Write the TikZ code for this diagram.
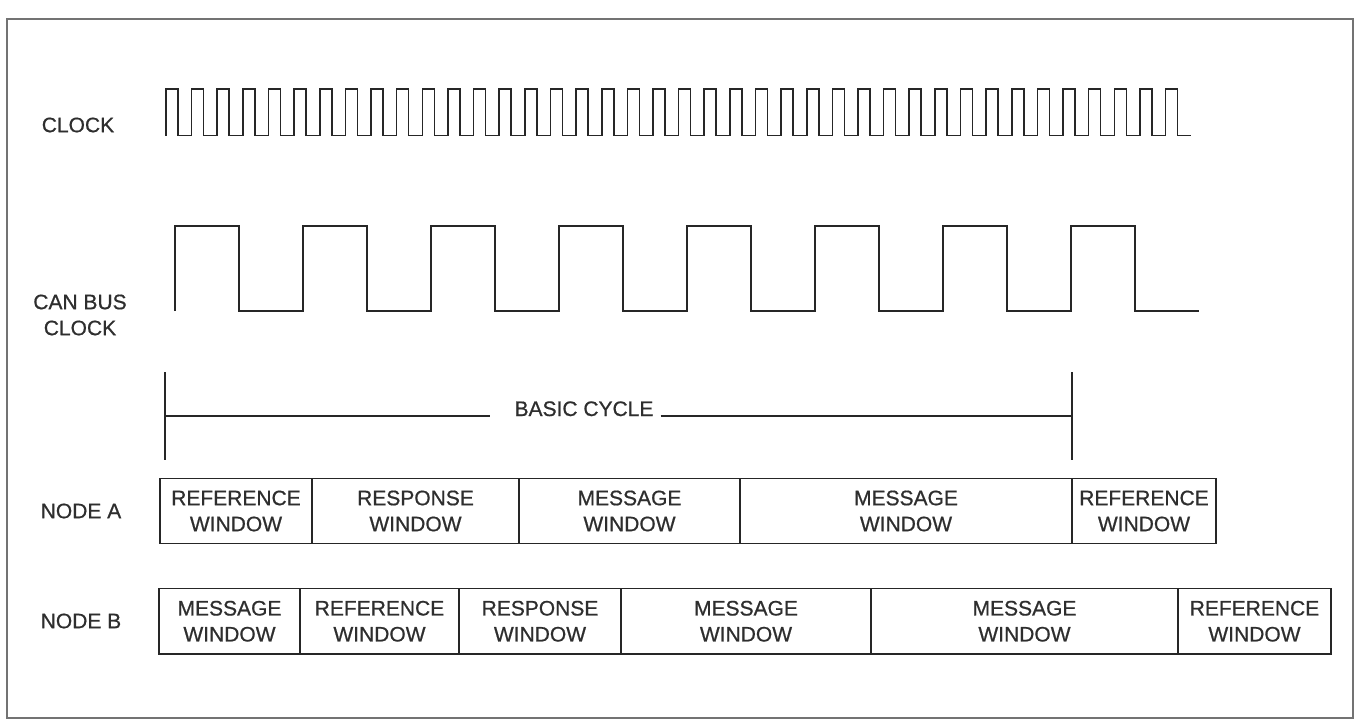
\documentclass[tikz,border=0pt]{standalone}
\usepackage{fontspec}
\setmainfont{Liberation Sans}
\newfontfamily\scanfont{Liberation Sans}[FakeBold=0.7]
\begin{document}
\begin{tikzpicture}[x=1pt,y=-1pt,
  wave/.style={line width=1.6pt, draw=black!85, line join=miter},
  framebox/.style={line width=1.1pt, draw=black!55},
  lbl/.style={font=\scanfont\fontsize{21}{26}\selectfont, text=black!82, inner sep=0pt, align=center},
  win/.style={draw=black!85, line width=1.5pt, font=\scanfont\fontsize{21}{26}\selectfont, text=black!82,
              align=center, inner sep=0pt, outer sep=0pt, anchor=north west},
  rowa/.style={win, minimum height=65pt},
  rowb/.style={win, minimum height=65.5pt},
  cyc/.style={line width=1.5pt, draw=black!85}]
\useasboundingbox (0,0) rectangle (1359,726);
\draw[framebox] (7,19) rectangle (1353,718);

% labels
\node[lbl] (clk) at (78,125) {CLOCK};
\node[lbl] (can) at (80,315) {CAN BUS\\CLOCK};
\node[lbl] (na) at (81,511) {NODE A};
\node[lbl] (nb) at (81,621) {NODE B};

% clock waveform
\draw[wave] (166,135.5) \foreach \i in {0,...,39} {
  -- ({166+25.63*\i},89) -- ({178+25.63*\i},89) -- ({178+25.63*\i},135.5) -- ({191.63+25.63*\i},135.5) };

% CAN bus clock waveform
\draw[wave] (175,311) \foreach \i in {0,...,7} {
  -- ({175+128*\i},226) -- ({239+128*\i},226) -- ({239+128*\i},311) -- ({303+128*\i},311) };

% basic cycle
\coordinate (cL) at (165,416);
\coordinate (cR) at (1072,416);
\draw[cyc] (165,372) -- (165,460);
\draw[cyc] (1072,372) -- (1072,460);
\node[lbl, anchor=base] (bc) at (584,416) {BASIC CYCLE};
\draw[cyc] (cL) -- ([xshift=-24pt]bc.base west);
\draw[cyc] ([xshift=7pt]bc.base east) -- (cR);

% node A windows
\node[rowa, minimum width=152pt] (a1) at (160,478.5) {REFERENCE\\WINDOW};
\node[rowa, minimum width=207pt] (a2) at (312,478.5) {RESPONSE\\WINDOW};
\node[rowa, minimum width=221pt] (a3) at (519,478.5) {MESSAGE\\WINDOW};
\node[rowa, minimum width=332pt] (a4) at (740,478.5) {MESSAGE\\WINDOW};
\node[rowa, minimum width=144pt] (a5) at (1072,478.5) {REFERENCE\\WINDOW};

% node B windows
\node[rowb, minimum width=141pt] (b1) at (159,588.5) {MESSAGE\\WINDOW};
\node[rowb, minimum width=159pt] (b2) at (300,588.5) {REFERENCE\\WINDOW};
\node[rowb, minimum width=162pt] (b3) at (459,588.5) {RESPONSE\\WINDOW};
\node[rowb, minimum width=250pt] (b4) at (621,588.5) {MESSAGE\\WINDOW};
\node[rowb, minimum width=307pt] (b5) at (871,588.5) {MESSAGE\\WINDOW};
\node[rowb, minimum width=153pt] (b6) at (1178,588.5) {REFERENCE\\WINDOW};
\end{tikzpicture}
\end{document}
